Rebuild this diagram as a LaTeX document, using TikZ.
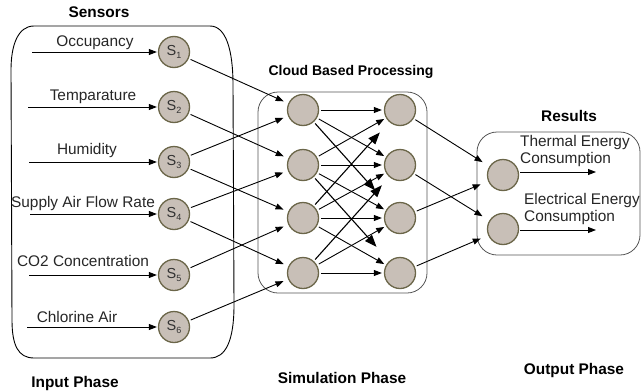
\documentclass[tikz,border=0pt]{standalone}
\usepackage{fontspec}
\setmainfont{Liberation Sans}
\usetikzlibrary{arrows.meta}
\definecolor{nodefill}{HTML}{C8BFB7}
\definecolor{nodeborder}{HTML}{6B6649}
\definecolor{boxgray}{HTML}{555555}
\newcommand{\sn}[1]{S\raisebox{-0.45ex}{\fontsize{9}{9}\selectfont #1}}
\begin{document}
\begin{tikzpicture}[x=1pt,y=-1pt,
  neuron/.style={circle, draw=nodeborder, fill=nodefill, line width=1.3pt, minimum size=31pt, inner sep=0pt, font=\fontsize{14.5}{14.5}\selectfont, text=black!80},
  conn/.style={line width=0.9pt, -{Triangle[length=8pt,width=6pt]}, shorten <=2pt},
  bigconn/.style={line width=1.1pt, -{Triangle[length=12pt,width=9pt]}, shorten <=2pt},
  lbl/.style={font=\fontsize{15.4}{17.5}\selectfont, text=black!85, inner sep=0pt},
  ttl/.style={font=\bfseries\fontsize{15.4}{17}\selectfont, inner sep=0pt}]
\useasboundingbox (0,0) rectangle (642,391);

% boxes
\draw[line width=0.9pt] (34,26) -- (210,26) .. controls (226,26) and (233,50) .. (233,85)
  -- (234,305) .. controls (234,340) and (226,358) .. (210,358) -- (34,358)
  .. controls (18,358) and (12,345) .. (12,320) -- (11,70)
  .. controls (11,45) and (18,26) .. (34,26) -- cycle;
\draw[boxgray, line width=0.8pt, rounded corners=20pt] (258,92) rectangle (427,293);
\draw[boxgray, line width=0.8pt, rounded corners=20pt] (477,132) rectangle (640,255);

% titles
\node[ttl] (tSens) at (99,12) {Sensors};
\node[ttl, font=\bfseries\fontsize{14}{16}\selectfont] (tCloud) at (351,72) {Cloud Based Processing};
\node[ttl] (tRes) at (569,116) {Results};
\node[ttl] (tIn) at (75,384) {Input Phase};
\node[ttl] (tSim) at (342,378) {Simulation Phase};
\node[ttl] (tOut) at (574,371) {Output Phase};

% sensor nodes
\node[neuron] (s1) at (174,52) {\sn{1}};
\node[neuron] (s2) at (174,107) {\sn{2}};
\node[neuron] (s3) at (174,162) {\sn{3}};
\node[neuron] (s4) at (174,214) {\sn{4}};
\node[neuron] (s5) at (174,275) {\sn{5}};
\node[neuron] (s6) at (174,327) {\sn{6}};

% hidden layers
\node[neuron] (h1) at (303,110) {};
\node[neuron] (h2) at (303,165) {};
\node[neuron] (h3) at (303,218) {};
\node[neuron] (h4) at (303,273) {};
\node[neuron] (o1) at (400,110) {};
\node[neuron] (o2) at (400,165) {};
\node[neuron] (o3) at (400,218) {};
\node[neuron] (o4) at (400,273) {};

% result nodes
\node[neuron] (r1) at (503,175) {};
\node[neuron] (r2) at (503,229) {};

% input labels and arrows
\coordinate (i1) at (32,52);
\coordinate (i2) at (28,107);
\coordinate (i3) at (29,162);
\coordinate (i4) at (30,214);
\coordinate (i5) at (29,275);
\coordinate (i6) at (27,327);
\node[lbl] (l1) at (95,43) {Occupancy};
\node[lbl] (l2) at (93,97) {Temparature};
\node[lbl] (l3) at (87,151) {Humidity};
\node[lbl] (l4) at (83,204) {Supply Air Flow Rate};
\node[lbl] (l5) at (83,261) {CO2 Concentration};
\node[lbl] (l6) at (77,317) {Chlorine Air};
\foreach \i in {1,...,6} \draw[conn, shorten <=0pt, shorten >=1pt] (i\i) -- (s\i);

% sensors -> hidden 1
\begin{scope}[every path/.style={conn, shorten >=5pt}]
\draw (s1) -- (h1);
\draw (s2) -- (h2);
\draw (s3) -- (h1);
\draw (s3) -- (h3);
\draw (s4) -- (h2);
\draw (s4) -- (h4);
\draw (s5) -- (h3);
\draw (s6) -- (h4);
\end{scope}

% hidden 1 -> hidden 2
\begin{scope}[every path/.style={conn, shorten >=2pt}]
\draw (h1) -- (o1);
\draw (h1) -- (o2);
\draw (h2) -- (o1);
\draw (h2) -- (o2);
\draw (h2) -- (o3);
\draw (h3) -- (o2);
\draw (h3) -- (o3);
\draw (h3) -- (o4);
\draw (h4) -- (o3);
\draw (h4) -- (o4);
\end{scope}
\draw[bigconn, shorten >=21pt] (h1) -- (o3);
\draw[bigconn, shorten >=19pt] (h2) -- (o4);
\draw[bigconn, shorten >=14pt] (h3) -- (o1);
\draw[bigconn, shorten >=11pt] (h4) -- (o2);

% hidden 2 -> results
\begin{scope}[every path/.style={conn, shorten >=8pt}]
\draw (o1) -- (r1);
\draw (o2) -- (r2);
\draw (o3) -- (r1);
\draw (o4) -- (r2);
\end{scope}

% outputs
\coordinate (e1) at (596,172);
\coordinate (e2) at (596,230);
\draw[conn, shorten <=1pt] (r1.east |- e1) -- (e1);
\draw[conn, shorten <=1pt] (r2.east |- e2) -- (e2);
\node[lbl, anchor=west, align=left] (rt1) at (520,151) {Thermal Energy\\Consumption};
\node[lbl, anchor=west, align=left] (rt2) at (524,209) {Electrical Energy\\Consumption};
\end{tikzpicture}
\end{document}
